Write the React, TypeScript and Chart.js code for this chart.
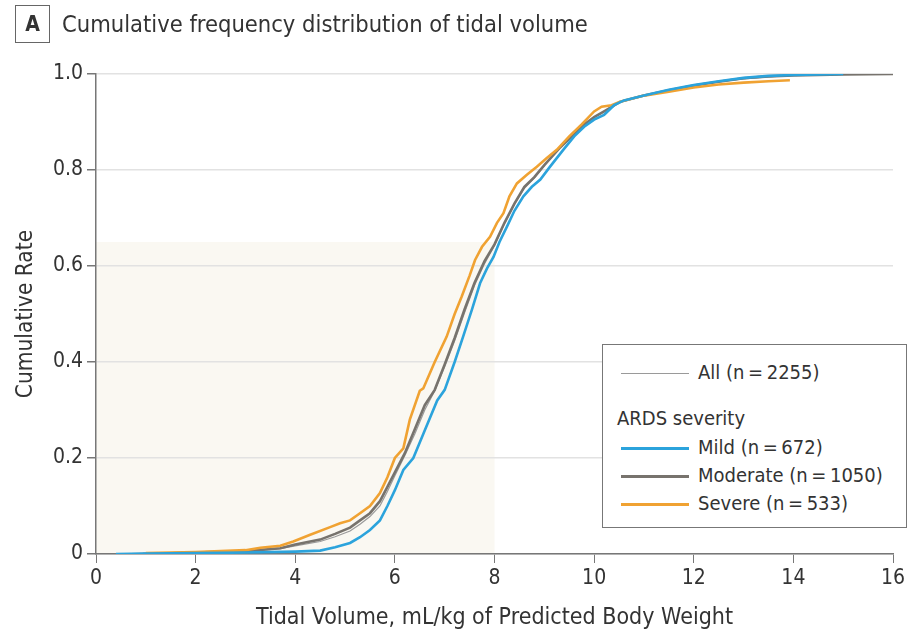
import React, { useEffect, useRef } from "react";
import { Chart, registerables } from "chart.js";

Chart.register(...registerables);

const FONT = "'DejaVu Sans Condensed', 'Liberation Sans Narrow', Roboto, sans-serif";

const xTicks = [0, 2, 4, 6, 8, 10, 12, 14, 16];
const yTicks = [0, 0.2, 0.4, 0.6, 0.8, 1.0];
const shadeX = [0, 8];
const shadeY = [0, 0.65];

const mildPoints: [number, number][] = [
  [0.4, 0], [1.0, 0.001], [2.0, 0.002], [3.0, 0.003], [4.0, 0.005], [4.5, 0.007],
  [4.8, 0.014], [5.1, 0.023], [5.3, 0.035], [5.5, 0.05], [5.7, 0.07], [5.85, 0.1],
  [6.0, 0.133], [6.17, 0.175], [6.37, 0.2], [6.57, 0.25], [6.85, 0.32], [7.0, 0.342],
  [7.2, 0.4], [7.37, 0.453], [7.55, 0.51], [7.71, 0.564], [7.85, 0.595], [7.98, 0.619],
  [8.1, 0.65], [8.25, 0.682], [8.4, 0.715], [8.58, 0.745], [8.75, 0.765], [8.92, 0.78],
  [9.1, 0.805], [9.38, 0.842], [9.6, 0.87], [9.8, 0.89], [10.0, 0.905], [10.2, 0.915],
  [10.4, 0.935], [10.6, 0.945], [11.0, 0.955], [11.5, 0.967], [12.0, 0.977], [12.5, 0.985],
  [13.0, 0.992], [13.5, 0.996], [14.0, 0.998], [15.0, 1.0],
];

const moderatePoints: [number, number][] = [
  [0.94, 0], [2.0, 0.003], [3.0, 0.006], [3.7, 0.012], [4.0, 0.02], [4.5, 0.03],
  [4.8, 0.042], [5.1, 0.055], [5.3, 0.07], [5.5, 0.085], [5.7, 0.11], [5.85, 0.14],
  [6.0, 0.17], [6.2, 0.21], [6.4, 0.26], [6.6, 0.31], [6.8, 0.342], [7.0, 0.395],
  [7.2, 0.45], [7.4, 0.51], [7.6, 0.565], [7.8, 0.61], [8.0, 0.645], [8.2, 0.69],
  [8.4, 0.73], [8.6, 0.765], [8.8, 0.785], [9.0, 0.81], [9.3, 0.845], [9.6, 0.875],
  [9.8, 0.895], [10.0, 0.91], [10.2, 0.922], [10.52, 0.942], [11.0, 0.955], [11.5, 0.966],
  [12.0, 0.976], [12.5, 0.984], [13.0, 0.991], [13.5, 0.995], [14.0, 0.997], [15.0, 0.999],
  [16.0, 1.0],
];

const severePoints: [number, number][] = [
  [1.0, 0.002], [2.0, 0.004], [3.0, 0.008], [3.3, 0.013], [3.7, 0.017], [3.96, 0.026],
  [4.3, 0.04], [4.7, 0.056], [4.9, 0.064], [5.1, 0.07], [5.3, 0.085], [5.5, 0.1],
  [5.7, 0.127], [5.85, 0.16], [6.0, 0.2], [6.17, 0.22], [6.3, 0.28], [6.5, 0.34],
  [6.57, 0.345], [6.8, 0.4], [7.04, 0.453], [7.2, 0.5], [7.34, 0.536], [7.5, 0.58],
  [7.61, 0.6125], [7.75, 0.64], [7.91, 0.661], [8.05, 0.69], [8.18, 0.71], [8.3, 0.745],
  [8.45, 0.772], [8.65, 0.79], [8.85, 0.807], [9.05, 0.825], [9.25, 0.842], [9.5, 0.87],
  [9.75, 0.895], [10.0, 0.922], [10.15, 0.932], [10.35, 0.935], [10.52, 0.942], [11.0, 0.955],
  [11.5, 0.963], [12.0, 0.972], [12.5, 0.978], [13.0, 0.982], [13.5, 0.985], [13.93, 0.987],
];

const allPoints: [number, number][] = [
  [0.4, 0], [1.0, 0.002], [2.0, 0.003], [3.0, 0.005], [3.7, 0.011], [4.0, 0.017],
  [4.5, 0.026], [4.8, 0.036], [5.1, 0.048], [5.3, 0.062], [5.5, 0.078], [5.7, 0.1],
  [5.85, 0.13], [6.0, 0.163], [6.2, 0.205], [6.4, 0.25], [6.6, 0.3], [6.8, 0.34],
  [7.0, 0.39], [7.2, 0.444], [7.4, 0.503], [7.6, 0.56], [7.8, 0.605], [8.0, 0.643],
  [8.2, 0.688], [8.4, 0.728], [8.6, 0.762], [8.8, 0.783], [9.0, 0.809], [9.3, 0.845],
  [9.6, 0.874], [9.8, 0.894], [10.0, 0.91], [10.2, 0.922], [10.52, 0.942], [11.0, 0.955],
  [11.5, 0.966], [12.0, 0.976], [12.5, 0.984], [13.0, 0.99], [13.5, 0.994], [14.0, 0.997],
  [15.0, 0.999], [16.0, 1.0],
];

const series = [
  { label: "Mild (n\u2009=\u2009672)", points: mildPoints, color: "#2ba3dc", width: 2.6 },
  { label: "Severe (n\u2009=\u2009533)", points: severePoints, color: "#f0a232", width: 2.6 },
  { label: "Moderate (n\u2009=\u20091050)", points: moderatePoints, color: "#77736d", width: 2.6 },
  { label: "All (n\u2009=\u20092255)", points: allPoints, color: "#9a9a9a", width: 1.2 },
];

const shadePlugin = {
  id: "shade",
  beforeDraw(chart: any) {
    const { ctx, scales } = chart;
    const x0 = scales.x.getPixelForValue(shadeX[0]);
    const x1 = scales.x.getPixelForValue(shadeX[1]);
    const y0 = scales.y.getPixelForValue(shadeY[0]);
    const y1 = scales.y.getPixelForValue(shadeY[1]);
    ctx.save();
    ctx.fillStyle = "#faf8f2";
    ctx.fillRect(x0, y1, x1 - x0, y0 - y1);
    ctx.restore();
  },
};

function LegendLine({ color, width }: { color: string; width: number }) {
  return (
    <span
      style={{
        display: "inline-block",
        width: 68,
        height: 0,
        borderTop: `${width}px solid ${color}`,
        verticalAlign: "middle",
        marginRight: 9,
      }}
    />
  );
}

export default function App() {
  const ref = useRef<HTMLCanvasElement | null>(null);

  useEffect(() => {
    if (!ref.current) return;
    const chart = new Chart(ref.current, {
      type: "line",
      data: {
        datasets: series.map((s) => ({
          label: s.label,
          data: s.points.map(([x, y]) => ({ x, y })),
          borderColor: s.color,
          borderWidth: s.width,
          pointRadius: 0,
          tension: 0,
          fill: false,
        })),
      },
      options: {
        animation: false,
        responsive: false,
        layout: { padding: { top: 74, right: 29, left: 0, bottom: 0 } },
        plugins: { legend: { display: false }, tooltip: { enabled: false } },
        scales: {
          x: {
            type: "linear",
            min: 0,
            max: 16,
            afterBuildTicks: (scale: any) => {
              scale.ticks = xTicks.map((v) => ({ value: v }));
            },
            afterFit: (scale: any) => {
              scale.height = 80;
            },
            border: { display: true, color: "#777", width: 1.5 },
            grid: { drawOnChartArea: false, drawTicks: true, tickLength: 9, tickColor: "#777" },
            ticks: {
              color: "#333",
              padding: 3,
              font: { family: FONT, size: 21 },
            },
            title: {
              display: true,
              text: "Tidal Volume, mL/kg of Predicted Body Weight",
              color: "#333",
              font: { family: FONT, size: 23 },
              padding: { top: 0, bottom: 2 },
            },
          },
          y: {
            type: "linear",
            min: 0,
            max: 1,
            afterBuildTicks: (scale: any) => {
              scale.ticks = yTicks.map((v) => ({ value: v }));
            },
            afterFit: (scale: any) => {
              scale.width = 96;
            },
            border: { display: true, color: "#777", width: 1.5 },
            grid: { color: "#e2e2e2", lineWidth: 1.5, drawTicks: true, tickLength: 9, tickColor: "#777" },
            ticks: {
              color: "#333",
              padding: 4,
              font: { family: FONT, size: 21 },
              callback: (v: any) => (Number(v) === 0 ? "0" : Number(v).toFixed(1)),
            },
            title: {
              display: true,
              text: "Cumulative Rate",
              color: "#333",
              font: { family: FONT, size: 22.5 },
              padding: { top: 13, bottom: 0 },
            },
          },
        },
      },
      plugins: [shadePlugin],
    });
    return () => chart.destroy();
  }, []);

  const legendRow: React.CSSProperties = {
    position: "absolute",
    left: 18,
    fontSize: 20,
    lineHeight: "22px",
    color: "#333",
    whiteSpace: "nowrap",
  };

  return (
    <div style={{ position: "fixed", left: 0, top: 0, width: 922, height: 634, background: "#fff", fontFamily: FONT }}>
      <canvas ref={ref} width={922} height={634} style={{ width: 922, height: 634, display: "block" }} />
      <div
        style={{
          position: "absolute",
          left: 15,
          top: 5,
          width: 33,
          height: 36,
          border: "1.5px solid #666",
          textAlign: "center",
          lineHeight: "36px",
          fontWeight: "bold",
          fontSize: 21,
          color: "#333",
        }}
      >
        A
      </div>
      <div style={{ position: "absolute", left: 62, top: 9, fontSize: 23.5, lineHeight: "30px", color: "#333", whiteSpace: "nowrap" }}>
        Cumulative frequency distribution of tidal volume
      </div>
      <div
        style={{
          position: "absolute",
          left: 602,
          top: 344,
          width: 303,
          height: 182,
          border: "1.5px solid #777",
          background: "#fff",
        }}
      >
        <div style={{ ...legendRow, top: 16 }}>
          <LegendLine color={series[3].color} width={1.5} />{series[3].label}
        </div>
        <div style={{ ...legendRow, left: 14, top: 62 }}>ARDS severity</div>
        <div style={{ ...legendRow, top: 91 }}>
          <LegendLine color={series[0].color} width={3} />{series[0].label}
        </div>
        <div style={{ ...legendRow, top: 119 }}>
          <LegendLine color={series[2].color} width={3} />{series[2].label}
        </div>
        <div style={{ ...legendRow, top: 147 }}>
          <LegendLine color={series[1].color} width={3} />{series[1].label}
        </div>
      </div>
    </div>
  );
}
